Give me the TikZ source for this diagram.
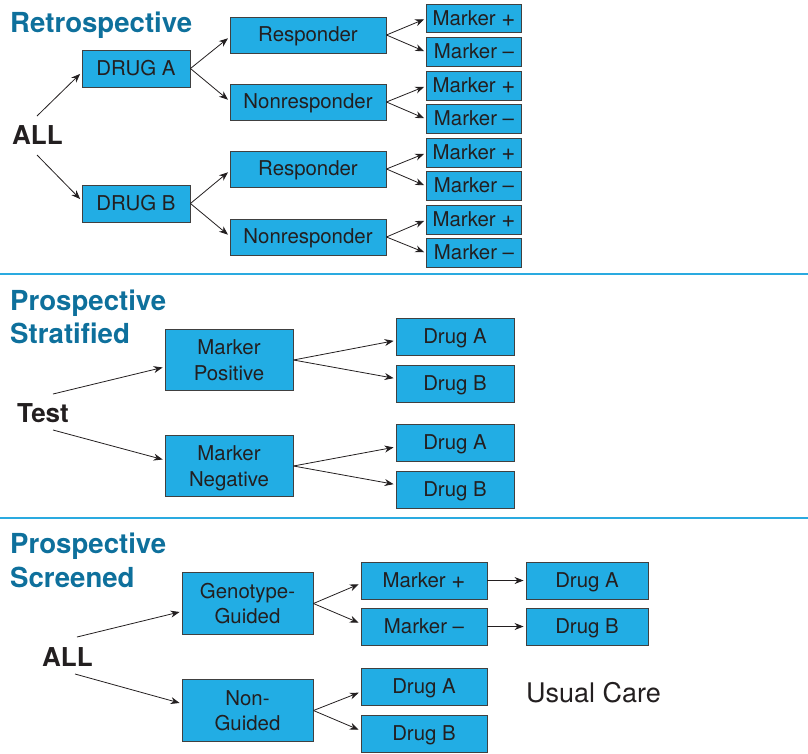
\documentclass[tikz,border=0pt]{standalone}
\usepackage{fontspec}
\setmainfont{TeX Gyre Heros}
\usetikzlibrary{arrows.meta,calc}
\definecolor{boxblue}{RGB}{34,173,228}
\definecolor{sepblue}{RGB}{42,170,224}
\definecolor{titleblue}{RGB}{14,112,156}
\definecolor{ink}{RGB}{35,31,32}
\newcommand{\bigplus}{\raisebox{-1pt}{\fontsize{24}{24}\selectfont +}}
\begin{document}
\begin{tikzpicture}[x=1pt,y=-1pt,
 box/.style={draw=black!75, line width=0.9pt, fill=boxblue, text=ink, inner sep=0pt,
   font=\fontsize{20.4}{25.5}\selectfont, text height=14.7pt, text depth=1.7pt},
 box2/.style={draw=black!75, line width=0.9pt, fill=boxblue, text=ink, inner sep=0pt,
   align=center, font=\fontsize{20.4}{25.5}\selectfont, text depth=0pt},
 arr/.style={-{Stealth[length=9pt,width=7pt]}, line width=0.8pt, ink, shorten >=2pt},
 ttl/.style={anchor=base west, text=titleblue, font=\fontsize{27.6}{33}\selectfont\bfseries, inner sep=0pt},
 big/.style={anchor=base west, text=ink, font=\fontsize{26}{30}\selectfont\bfseries, inner sep=0pt},
 plain/.style={anchor=base west, text=ink, font=\fontsize{27}{30}\selectfont, inner sep=0pt},
 sep/.style={sepblue, line width=2pt}]
\useasboundingbox (0,0) rectangle (808,753);

% separators
\draw[sep] (0,274) -- (808,274);
\draw[sep] (0,518) -- (808,518);

% ---------------- Section 1: Retrospective
\node[ttl] (t1) at (10,32) {Retrospective};
\node[big] (all1) at (12,144) {ALL};
\coordinate (s1a) at (37,116);
\coordinate (s1b) at (37,155);

\node[box, minimum width=108pt, minimum height=37pt] (dA) at (136,68.5) {DRUG A};
\node[box, minimum width=108pt, minimum height=37pt] (dB) at (136,203.5) {DRUG B};

\begin{scope}[every node/.append style={box, minimum width=156pt, minimum height=36pt}]
\node (r1) at (308,35) {Responder};
\node (n1) at (308,102) {Nonresponder};
\node (r2) at (308,169) {Responder};
\node (n2) at (308,237) {Nonresponder};
\end{scope}

\begin{scope}[every node/.append style={box, minimum width=95pt, minimum height=28.5pt}]
\node (m1) at (474,18.5) {Marker \bigplus};
\node (m2) at (474,52) {Marker \textendash};
\node (m3) at (474,86) {Marker \bigplus};
\node (m4) at (474,119) {Marker \textendash};
\node (m5) at (474,153) {Marker \bigplus};
\node (m6) at (474,186) {Marker \textendash};
\node (m7) at (474,220) {Marker \bigplus};
\node (m8) at (474,253) {Marker \textendash};
\end{scope}

\draw[arr] (s1a) -- ($(dA.west)+(0,4)$);
\draw[arr] (s1b) -- ($(dB.west)+(0,-3)$);
\draw[arr] (dA.east) -- ($(r1.west)+(0,2)$);
\draw[arr] (dA.east) -- ($(n1.west)+(0,-1)$);
\draw[arr] (dB.east) -- ($(r2.west)+(0,2)$);
\draw[arr] (dB.east) -- ($(n2.west)+(0,-1)$);
\draw[arr] (r1.east) -- (m1.west);
\draw[arr] (r1.east) -- (m2.west);
\draw[arr] (n1.east) -- (m3.west);
\draw[arr] (n1.east) -- (m4.west);
\draw[arr] (r2.east) -- (m5.west);
\draw[arr] (r2.east) -- (m6.west);
\draw[arr] (n2.east) -- (m7.west);
\draw[arr] (n2.east) -- (m8.west);

% ---------------- Section 2: Prospective Stratified
\node[ttl] (t2a) at (10,310) {Prospective};
\node[ttl] (t2b) at (10,343) {Stratified};
\node[big] (test) at (17,422) {Test};
\coordinate (s2a) at (53,394);
\coordinate (s2b) at (53,430);

\node[box2, minimum width=128pt, minimum height=61pt] (mp) at (229,360) {Marker\\Positive};
\node[box2, minimum width=128pt, minimum height=61pt] (mn) at (229,466) {Marker\\Negative};

\begin{scope}[every node/.append style={box, minimum width=118pt, minimum height=37pt}]
\node (da1) at (455,336.5) {Drug A};
\node (db1) at (455,383.5) {Drug B};
\node (da2) at (455,443) {Drug A};
\node (db2) at (455,489.5) {Drug B};
\end{scope}

\draw[arr] (s2a) -- ($(mp.west)+(0,7)$);
\draw[arr] (s2b) -- ($(mn.west)+(0,-6)$);
\draw[arr] (mp.east) -- ($(da1.west)+(0,4)$);
\draw[arr] (mp.east) -- ($(db1.west)+(0,-5)$);
\draw[arr] (mn.east) -- ($(da2.west)+(0,4)$);
\draw[arr] (mn.east) -- ($(db2.west)+(0,-5)$);

% ---------------- Section 3: Prospective Screened
\node[ttl] (t3a) at (10,553) {Prospective};
\node[ttl] (t3b) at (10,587) {Screened};
\node[big] (all3) at (42,666) {ALL};
\coordinate (s3a) at (77,637);
\coordinate (s3b) at (75,674);

\node[box2, minimum width=131pt, minimum height=62pt] (gg) at (247.5,603.5) {Genotype-\\Guided};
\node[box2, minimum width=131pt, minimum height=62pt] (ng) at (247.5,710.5) {Non-\\Guided};

\begin{scope}[every node/.append style={box, minimum width=126pt, minimum height=37pt}]
\node (mp3) at (424,580.5) {Marker \bigplus};
\node (mm3) at (424,626.5) {Marker \textendash};
\node (da3) at (424,687) {Drug A};
\node (db3) at (424,733.5) {Drug B};
\end{scope}
\begin{scope}[every node/.append style={box, minimum width=122pt, minimum height=37pt}]
\node (da4) at (587,580.5) {Drug A};
\node (db4) at (587,626.5) {Drug B};
\end{scope}

\node[plain] (uc) at (526,702) {Usual Care};

\draw[arr] (s3a) -- ($(gg.west)+(0,8)$);
\draw[arr] (s3b) -- ($(ng.west)+(0,-7)$);
\draw[arr] (gg.east) -- ($(mp3.west)+(0,3)$);
\draw[arr] (gg.east) -- ($(mm3.west)+(0,-3)$);
\draw[arr] (ng.east) -- ($(da3.west)+(0,5)$);
\draw[arr] (ng.east) -- ($(db3.west)+(0,-3)$);
\draw[arr] (mp3.east) -- (da4.west);
\draw[arr] (mm3.east) -- (db4.west);
\end{tikzpicture}
\end{document}
